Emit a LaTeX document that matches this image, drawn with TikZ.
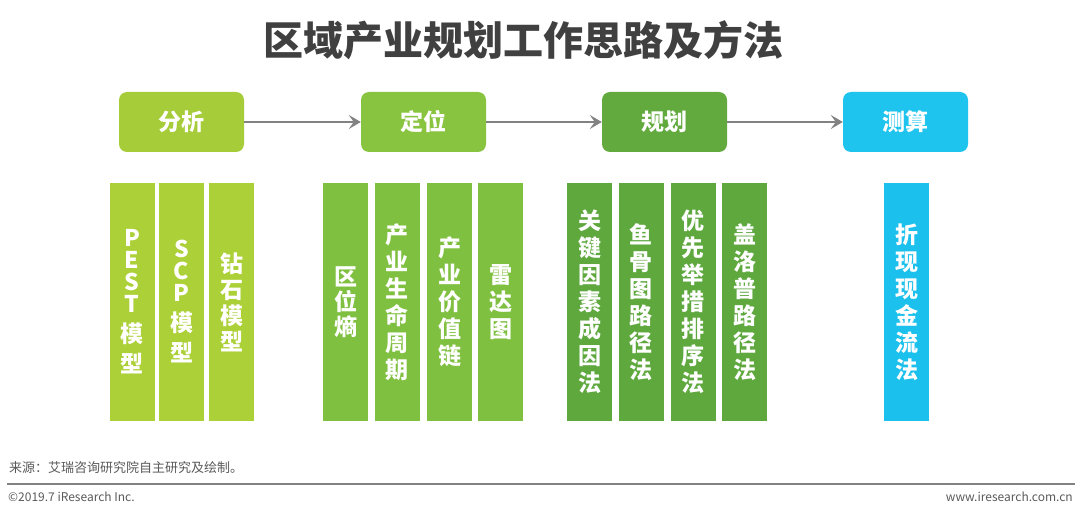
\documentclass[tikz,border=0pt]{standalone}
\usepackage{fontspec}
\setmainfont{Noto Sans CJK SC}
\usetikzlibrary{arrows.meta}
\begin{document}
\begin{tikzpicture}[x=1pt,y=-1pt,
  headbox/.style={rounded corners=8pt,minimum width=125pt,minimum height=60pt,inner sep=0pt,text=white,font=\bfseries\fontsize{23}{27}\selectfont},
  colbox/.style={minimum width=45pt,minimum height=238pt,inner sep=0pt,align=center,text=white,font=\bfseries\fontsize{23}{27}\selectfont},
  flow/.style={draw=arrowColor,line width=1.8pt,-{Stealth[length=12pt,width=14pt,inset=5pt]}}]
\definecolor{fillColor}{RGB}{255,255,255}
\definecolor{titleColor}{RGB}{64,64,64}
\definecolor{arrowColor}{RGB}{130,130,130}
\definecolor{footColor}{RGB}{90,90,90}
\definecolor{colA}{RGB}{166,205,57}
\definecolor{colAlt}{RGB}{172,208,55}
\definecolor{colB}{RGB}{137,196,64}
\definecolor{colBlt}{RGB}{128,192,65}
\definecolor{colC}{RGB}{98,170,62}
\definecolor{colClt}{RGB}{94,168,62}
\definecolor{colD}{RGB}{30,196,238}
\definecolor{colDlt}{RGB}{28,192,236}
\path[use as bounding box,fill=fillColor] (0,0) rectangle (1080,513);

\node[text=titleColor,inner sep=0pt,font=\bfseries\fontsize{40}{44}\selectfont] (title) at (523.5,40) {区域产业规划工作思路及方法};

\node[headbox,fill=colA] (fenxi) at (181.5,122) {分析};

\node[headbox,fill=colB] (dingwei) at (423.5,122) {定位};

\node[headbox,fill=colC] (guihua) at (664.5,122) {规划};

\node[headbox,fill=colD] (cesuan) at (905.5,122) {测算};

\draw[flow] (fenxi) -- (dingwei);

\draw[flow] (dingwei) -- (guihua);

\draw[flow] (guihua) -- (cesuan);

\node[colbox,fill=colAlt] (pest) at (132,302) {P\\[-5pt]E\\[-5pt]S\\[-5pt]T\\[3pt]模\\[3pt]型};

\node[colbox,fill=colAlt] (scp) at (181.5,302) {S\\[-5pt]C\\[-5pt]P\\[3pt]模\\[3pt]型};

\node[colbox,fill=colAlt] (zuanshi) at (231.5,302) {钻\\[-1pt]石\\[-1pt]模\\[-1pt]型};

\node[colbox,fill=colBlt] (quweishang) at (345.5,302) {区\\[-2pt]位\\[-2pt]熵};

\node[colbox,fill=colBlt] (shengming) at (397,302) {产\\业\\生\\命\\周\\期};

\node[colbox,fill=colBlt] (jiazhi) at (449.5,302) {产\\业\\价\\值\\链};

\node[colbox,fill=colBlt] (leida) at (500.5,302) {雷\\达\\图};

\node[colbox,fill=colClt] (guanjian) at (589.5,302) {关\\键\\因\\素\\成\\因\\法};

\node[colbox,fill=colClt] (yugu) at (641,302) {鱼\\骨\\图\\路\\径\\法};

\node[colbox,fill=colClt] (youxian) at (693,302) {优\\先\\举\\措\\排\\序\\法};

\node[colbox,fill=colClt] (gailuopu) at (744.5,302) {盖\\洛\\普\\路\\径\\法};

\node[colbox,fill=colDlt] (zhexian) at (906.5,302) {折\\现\\现\\金\\流\\法};

\node[text=footColor,anchor=west,inner sep=0pt,font=\fontsize{13}{15}\selectfont] (source) at (9,468) {来源：艾瑞咨询研究院自主研究及绘制。};

\coordinate (ruleL) at (7,484);
\coordinate (ruleR) at (1075,484);
\draw[draw=arrowColor,line width=1.5pt] (ruleL) -- (ruleR);

\node[text=footColor,anchor=west,inner sep=0pt,font=\fontsize{12}{14}\selectfont] (copy) at (8,497) {©2019.7 iResearch Inc.};

\node[text=footColor,anchor=east,inner sep=0pt,font=\fontsize{12}{14}\selectfont] (site) at (1073,497) {www.iresearch.com.cn};
\end{tikzpicture}
\end{document}
